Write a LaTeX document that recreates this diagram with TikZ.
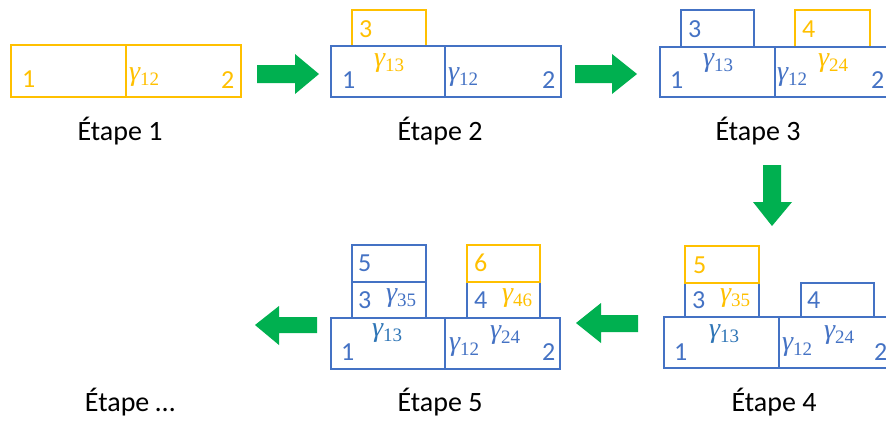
\documentclass[tikz,border=0pt]{standalone}
\usepackage{fontspec}
\setmainfont{Carlito}
\newfontfamily\gfont{Liberation Serif}
\definecolor{orng}{HTML}{FFC000}
\definecolor{bl}{HTML}{4472C4}
\definecolor{lbl}{HTML}{2E75B6}
\definecolor{grn}{HTML}{00B050}
\newcommand\gm[1]{{\gfont\itshape γ\raisebox{-5.5pt}{\fontsize{19}{19}\selectfont\upshape #1}}}
\tikzset{
  obox/.style={draw=orng, line width=2pt},
  bbox/.style={draw=bl, line width=2pt},
  lab/.style={anchor=west, inner sep=0pt, font=\fontsize{26}{26}\selectfont},
  glab/.style={anchor=west, inner sep=0pt, font=\fontsize{28}{28}\selectfont},
  etape/.style={anchor=base, inner sep=0pt, font=\fontsize{28}{28}\selectfont, text=black},
  garrow/.style={fill=grn, draw=none}
}
\begin{document}
\begin{tikzpicture}[x=1pt,y=-1pt]
\clip (0,0) rectangle (886,421);
\fill[white] (0,0) rectangle (886,421);
% ---------- Step 1
\draw[obox] (11,45) rectangle (241,97);
\draw[obox] (126,45) -- (126,97);
\node[lab, text=orng] (s1a) at (22,79) {1};
\node[glab, text=orng] (s1g12) at (129,77) {\gm{12}};
\node[lab, text=orng] (s1b) at (221,80) {2};
\node[etape] (e1) at (120,140) {Étape 1};
% ---------- Step 2
\draw[obox] (352,10) rectangle (426,46);
\draw[bbox] (331,46) rectangle (561,97);
\draw[bbox] (445,46) -- (445,97);
\node[lab, text=orng] (s2c) at (359,29) {3};
\node[glab, text=orng] (s2g13) at (374,63) {\gm{13}};
\node[lab, text=bl] (s2a) at (342,80) {1};
\node[glab, text=bl] (s2g12) at (448,77) {\gm{12}};
\node[lab, text=bl] (s2b) at (542,80) {2};
\node[etape] (e2) at (440,140) {Étape 2};
% ---------- Step 3
\draw[bbox] (681,10) rectangle (754,47);
\draw[obox] (795,10) rectangle (870,47);
\draw[bbox] (660,47) rectangle (890,97);
\draw[bbox] (775,47) -- (775,97);
\node[lab, text=bl] (s3c) at (688,29) {3};
\node[lab, text=orng] (s3d) at (802,29) {4};
\node[glab, text=bl] (s3g13) at (703,63) {\gm{13}};
\node[lab, text=bl] (s3a) at (670,80) {1};
\node[glab, text=bl] (s3g12) at (777,77) {\gm{12}};
\node[glab, text=orng] (s3g24) at (818,63) {\gm{24}};
\node[lab, text=bl] (s3b) at (871,80) {2};
\node[etape] (e3) at (758,140) {Étape 3};
% ---------- Step 4
\draw[bbox] (664,317) rectangle (894,368);
\draw[bbox] (779,317) -- (779,368);
\draw[bbox] (685,283) rectangle (759,317);
\draw[bbox] (801,283) rectangle (874,317);
\draw[obox] (685,246) rectangle (759,283);
\node[lab, text=orng] (s4e) at (693,265) {5};
\node[lab, text=bl] (s4c) at (692,300) {3};
\node[glab, text=orng] (s4g35) at (720,298) {\gm{35}};
\node[lab, text=bl] (s4d) at (807,300) {4};
\node[glab, text=lbl] (s4g13) at (709,334) {\gm{13}};
\node[lab, text=bl] (s4a) at (674,352) {1};
\node[glab, text=bl] (s4g12) at (782,347) {\gm{12}};
\node[glab, text=bl] (s4g24) at (824,335) {\gm{24}};
\node[lab, text=bl] (s4b) at (874,352) {2};
\node[etape] (e4) at (774,411) {Étape 4};
% ---------- Step 5
\draw[bbox] (331,318) rectangle (560,369);
\draw[bbox] (445,318) -- (445,369);
\draw[bbox] (352,245) rectangle (426,282);
\draw[bbox] (352,282) rectangle (426,318);
\draw[bbox] (467,282) rectangle (540,318);
\draw[obox] (467,245) rectangle (540,282);
\node[lab, text=bl] (s5e) at (358,263) {5};
\node[lab, text=bl] (s5c) at (358,300) {3};
\node[glab, text=bl] (s5g35) at (386,298) {\gm{35}};
\node[lab, text=orng] (s5f) at (474,263) {6};
\node[lab, text=bl] (s5d) at (474,300) {4};
\node[glab, text=orng] (s5g46) at (502,298) {\gm{46}};
\node[glab, text=lbl] (s5g13) at (372,333) {\gm{13}};
\node[lab, text=bl] (s5a) at (341,352) {1};
\node[glab, text=bl] (s5g12) at (449,347) {\gm{12}};
\node[glab, text=bl] (s5g24) at (490,335) {\gm{24}};
\node[lab, text=bl] (s5b) at (542,352) {2};
\node[etape] (e5) at (440,411) {Étape 5};
% ---------- Step ...
\node[etape] (e6) at (130,411) {Étape …};
% ---------- Green block arrows
\fill[garrow] (257,65) -- (295,65) -- (295,54) -- (319,74) -- (295,94) -- (295,83) -- (257,83) -- cycle;
\fill[garrow] (575,65) -- (612,65) -- (612,54) -- (637,74) -- (612,94) -- (612,83) -- (575,83) -- cycle;
\fill[garrow] (763,165) -- (763,202) -- (753,202) -- (772,226) -- (792,202) -- (781,202) -- (781,165) -- cycle;
\fill[garrow] (638,315) -- (601,315) -- (601,303) -- (576,323) -- (601,343) -- (601,332) -- (638,332) -- cycle;
\fill[garrow] (317,317) -- (279,317) -- (279,306) -- (255,325) -- (279,345) -- (279,333) -- (317,333) -- cycle;
\end{tikzpicture}
\end{document}
